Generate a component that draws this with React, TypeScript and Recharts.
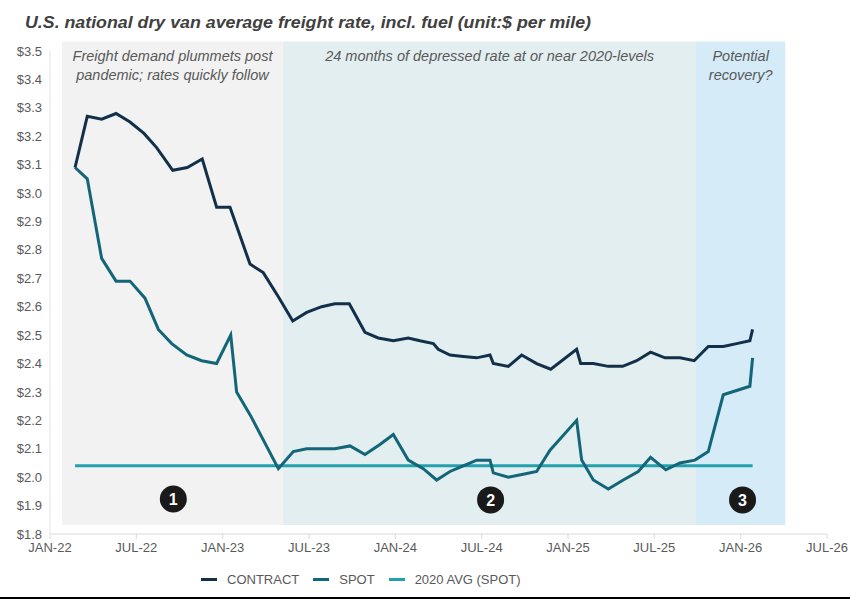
import { FC } from "react";
import {
    LineChart,
    Line,
    XAxis,
    YAxis,
    ReferenceArea,
    ReferenceDot,
} from "recharts";

// time axis: months since JAN-22
const xTicks = [0, 6, 12, 18, 24, 30, 36, 42, 48, 54];
const xTickLabels = ["JAN-22", "JUL-22", "JAN-23", "JUL-23", "JAN-24", "JUL-24", "JAN-25", "JUL-25", "JAN-26", "JUL-26"];
const yTicks = [1.8, 1.9, 2.0, 2.1, 2.2, 2.3, 2.4, 2.5, 2.6, 2.7, 2.8, 2.9, 3.0, 3.1, 3.2, 3.3, 3.4, 3.5];

const contractT = [1.74, 2.59, 3.59, 4.59, 5.56, 6.53, 7.41, 8.53, 9.54, 10.58, 11.58, 12.51, 13.9, 14.82, 15.87, 16.87, 17.84, 18.88, 19.8, 20.8, 21.89, 22.81, 23.86, 24.9, 25.71, 26.64, 26.98, 27.8, 28.72, 29.65, 30.58, 30.81, 31.85, 32.78, 33.82, 34.8, 36.6, 36.88, 37.76, 38.8, 39.8, 40.77, 41.74, 42.74, 43.78, 44.77, 45.75, 46.79, 47.72, 48.64, 48.83];
const contractV = [3.09, 3.27, 3.26, 3.28, 3.25, 3.21, 3.16, 3.08, 3.09, 3.12, 2.95, 2.95, 2.75, 2.72, 2.635, 2.55, 2.58, 2.6, 2.61, 2.61, 2.51, 2.49, 2.48, 2.49, 2.48, 2.47, 2.45, 2.43, 2.425, 2.42, 2.43, 2.4, 2.39, 2.43, 2.4, 2.38, 2.45, 2.4, 2.4, 2.39, 2.39, 2.41, 2.44, 2.42, 2.42, 2.41, 2.46, 2.46, 2.47, 2.48, 2.52];

const spotT = [1.74, 2.59, 3.59, 4.59, 5.56, 6.6, 7.53, 8.46, 9.5, 10.54, 11.58, 12.56, 12.97, 13.9, 15.87, 16.91, 17.84, 18.88, 19.8, 20.85, 21.89, 22.93, 23.86, 24.9, 25.94, 26.87, 27.8, 28.72, 29.65, 30.58, 30.81, 31.85, 32.89, 33.82, 34.75, 36.6, 36.95, 37.76, 38.8, 39.84, 40.88, 41.74, 42.8, 43.78, 44.82, 45.75, 46.79, 48.64, 48.83];
const spotV = [3.09, 3.05, 2.77, 2.69, 2.69, 2.63, 2.52, 2.47, 2.43, 2.41, 2.4, 2.5, 2.3, 2.22, 2.03, 2.09, 2.1, 2.1, 2.1, 2.11, 2.08, 2.115, 2.15, 2.06, 2.03, 1.99, 2.02, 2.04, 2.06, 2.06, 2.015, 2.0, 2.01, 2.02, 2.095, 2.2, 2.06, 1.99, 1.958, 1.99, 2.02, 2.07, 2.026, 2.05, 2.06, 2.09, 2.29, 2.32, 2.42];

const avg2020T = [1.74, 48.83];
const avg2020V = [2.04, 2.04];

const phaseStart = [0.83, 16.2, 44.9];
const phaseEnd = [16.2, 44.9, 51.1];
const phaseText = [
    ["Freight demand plummets post", "pandemic; rates quickly follow"],
    ["24 months of depressed rate at or near 2020-levels"],
    ["Potential", "recovery?"],
];
const phaseNumT = [8.57, 30.62, 48.13];
const phaseNumV = [1.923, 1.92, 1.92];

const seriesNames = ["CONTRACT", "SPOT", "2020 AVG (SPOT)"];

const toPoints = (t: number[], v: number[]) => t.map((x, i) => ({ t: x, v: v[i] }));
const contractData = toPoints(contractT, contractV);
const spotData = toPoints(spotT, spotV);
const avgData = toPoints(avg2020T, avg2020V);

const COLORS = ["#12304a", "#136678", "#22a0ae"];
const PHASE_FILLS = ["#f2f2f2", "#e3eef1", "#d5ebf8"];
const FONT = "'Liberation Sans', Arial, sans-serif";

const PhaseLabel: FC<any> = ({ viewBox, lines }) => {
    if (!viewBox) return null;
    const cx = viewBox.x + viewBox.width / 2;
    return (
        <text
            x={cx}
            y={viewBox.y + 19}
            textAnchor="middle"
            fontStyle="italic"
            fontSize={14.5}
            fill="#595959"
            fontFamily={FONT}
        >
            {lines.map((l: string, i: number) => (
                <tspan key={i} x={cx} dy={i === 0 ? 0 : 19.5}>{l}</tspan>
            ))}
        </text>
    );
};

const App: FC = () => {
    return (
        <div style={{ position: "absolute", left: 0, top: 0, width: 850, height: 599, background: "#fff", fontFamily: FONT }}>
            <svg width={850} height={40} style={{ position: "absolute", left: 0, top: 0 }}>
                <text x={25} y={28} fontSize={17} fontWeight="bold" fontStyle="italic" fill="#404040" fontFamily={FONT} textLength={566} lengthAdjust="spacingAndGlyphs">
                    U.S. national dry van average freight rate, incl. fuel (unit:$ per mile)
                </text>
            </svg>
            <div style={{ position: "absolute", left: 0, top: 0 }}>
                <LineChart
                    width={850}
                    height={599}
                    margin={{ top: 51, right: 23, left: 0, bottom: 35 }}
                >
                    {phaseStart.map((s, i) => (
                        <ReferenceArea
                            key={i}
                            x1={s}
                            x2={phaseEnd[i]}
                            y1={1.832}
                            y2={3.533}
                            fill={PHASE_FILLS[i]}
                            fillOpacity={1}
                            stroke="none"
                            ifOverflow="visible"
                            label={<PhaseLabel lines={phaseText[i]} />}
                        />
                    ))}
                    <XAxis
                        type="number"
                        dataKey="t"
                        domain={[0, 54]}
                        ticks={xTicks}
                        tickFormatter={(v: number) => xTickLabels[xTicks.indexOf(v)]}
                        axisLine={{ stroke: "#d9d9d9" }}
                        tickLine={{ stroke: "#d9d9d9" }}
                        tickSize={5}
                        tickMargin={4}
                        height={30}
                        tick={{ fill: "#595959", fontSize: 13, fontFamily: FONT }}
                        allowDataOverflow
                    />
                    <YAxis
                        type="number"
                        domain={[1.8, 3.5]}
                        ticks={yTicks}
                        tickFormatter={(v: number) => `$${v.toFixed(1)}`}
                        axisLine={{ stroke: "#e3e3e3" }}
                        tickLine={false}
                        tickSize={6}
                        tickMargin={2}
                        width={50}
                        interval={0}
                        tick={{ fill: "#595959", fontSize: 13, fontFamily: FONT }}
                        allowDataOverflow
                    />
                    <Line data={avgData} dataKey="v" name={seriesNames[2]} stroke={COLORS[2]} strokeWidth={3} dot={false} isAnimationActive={false} />
                    <Line data={spotData} dataKey="v" name={seriesNames[1]} stroke={COLORS[1]} strokeWidth={3} dot={false} isAnimationActive={false} />
                    <Line data={contractData} dataKey="v" name={seriesNames[0]} stroke={COLORS[0]} strokeWidth={3} dot={false} isAnimationActive={false} />
                    {phaseNumT.map((t, i) => (
                        <ReferenceDot
                            key={i}
                            x={t}
                            y={phaseNumV[i]}
                            r={13.5}
                            fill="#1a1a1a"
                            stroke="none"
                            ifOverflow="visible"
                            label={{ value: String(i + 1), position: "center", fill: "#fff", fontSize: 16, fontWeight: "bold", fontFamily: FONT }}
                        />
                    ))}
                </LineChart>
            </div>
            <div style={{ position: "absolute", top: 572, left: 201, display: "flex", alignItems: "center", fontSize: 13, color: "#595959" }}>
                {seriesNames.map((n, i) => (
                    <div key={n} style={{ display: "flex", alignItems: "center", marginRight: 14 }}>
                        <span style={{ display: "inline-block", width: 16, height: 3, background: COLORS[i], marginRight: 10 }} />
                        <span>{n}</span>
                    </div>
                ))}
            </div>
            <div style={{ position: "absolute", left: 0, top: 597, width: 850, height: 2, background: "#000" }} />
        </div>
    );
};

export default App;
